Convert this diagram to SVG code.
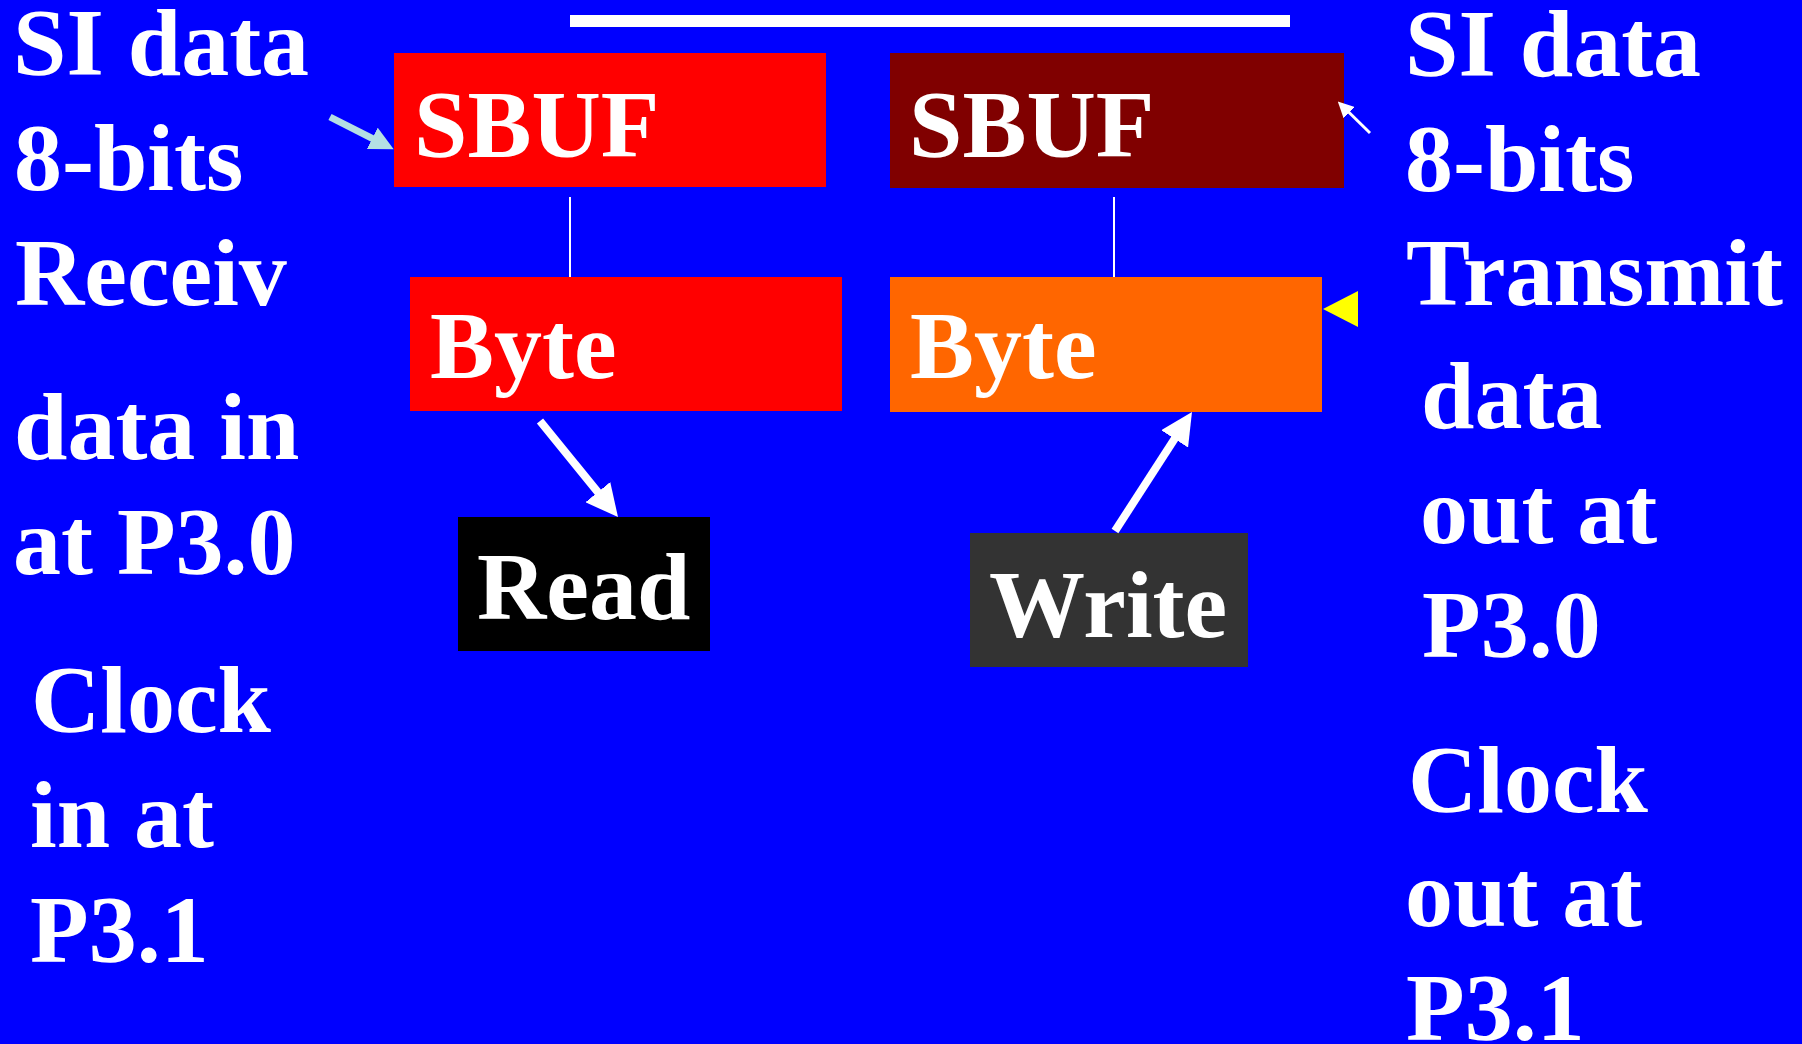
<svg xmlns="http://www.w3.org/2000/svg" width="1802" height="1044" viewBox="0 0 1802 1044">
  <style>
    .t { font-family: "Liberation Serif", "Times New Roman", serif; font-weight: bold; font-size: 96px; fill: #ffffff; }
    .link { stroke: #ffffff; stroke-width: 2; }
    .arrow { stroke: #ffffff; stroke-width: 8; fill: none; }
  </style>
  <defs>
    <marker id="head" viewBox="0 0 10 10" refX="5" refY="5" markerUnits="userSpaceOnUse" markerWidth="32" markerHeight="32" orient="auto">
      <path d="M0,0 L10,5 L0,10 Z" fill="#ffffff"/>
    </marker>
    <marker id="head-blue" viewBox="0 0 10 10" refX="5" refY="5" markerUnits="userSpaceOnUse" markerWidth="24" markerHeight="24" orient="auto">
      <path d="M0,0 L10,5 L0,10 Z" fill="#b4dfe4"/>
    </marker>
    <marker id="head-sm" viewBox="0 0 10 10" refX="5" refY="5" markerUnits="userSpaceOnUse" markerWidth="16" markerHeight="16" orient="auto">
      <path d="M0,0 L10,5 L0,10 Z" fill="#ffffff"/>
    </marker>
  </defs>

  <!-- background -->
  <rect x="0" y="0" width="1802" height="1044" fill="#0000ff"/>

  <!-- top bar -->
  <rect x="570" y="15" width="720" height="12" fill="#ffffff"/>

  <!-- receive side -->
  <g id="sbuf-rx">
    <rect x="394" y="53" width="432" height="134" fill="#ff0000"/>
    <text class="t" x="414" y="157">SBUF</text>
  </g>
  <g id="byte-rx">
    <rect x="410" y="277" width="432" height="134" fill="#ff0000"/>
    <text class="t" x="430" y="378">Byte</text>
  </g>
  <g id="read">
    <rect x="458" y="517" width="252" height="134" fill="#000000"/>
    <text class="t" x="477" y="619">Read</text>
  </g>

  <!-- transmit side -->
  <g id="sbuf-tx">
    <rect x="890" y="53" width="454" height="135" fill="#800000"/>
    <text class="t" x="909" y="157">SBUF</text>
  </g>
  <g id="byte-tx">
    <rect x="890" y="277" width="432" height="135" fill="#ff6600"/>
    <text class="t" x="910" y="378">Byte</text>
  </g>
  <g id="write">
    <rect x="970" y="533" width="278" height="134" fill="#333333"/>
    <text class="t" x="989" y="637">Write</text>
  </g>

  <!-- connectors -->
  <g id="connectors">
    <line class="link" x1="570" y1="197" x2="570" y2="277"/>
    <line class="link" x1="1114" y1="197" x2="1114" y2="277"/>
    <line class="arrow" x1="540" y1="421" x2="607.9" y2="504.6" marker-end="url(#head)"/>
    <line class="arrow" x1="1115" y1="531" x2="1183.3" y2="425.4" marker-end="url(#head)"/>
    <line x1="330" y1="117" x2="383" y2="143.8" stroke="#b4dfe4" stroke-width="7" marker-end="url(#head-blue)"/>
    <line x1="1370" y1="133" x2="1343.5" y2="107" stroke="#ffffff" stroke-width="3" marker-end="url(#head-sm)"/>
    <polygon points="1323,309 1358,291 1358,327" fill="#ffff00"/>
  </g>

  <!-- left notes -->
  <g id="notes-rx">
    <text class="t" x="13" y="75">SI data</text>
    <text class="t" x="14" y="190">8-bits</text>
    <text class="t" x="15" y="305">Receiv</text>
    <text class="t" x="14" y="459">data in</text>
    <text class="t" x="13" y="574">at P3.0</text>
    <text class="t" x="31" y="732">Clock</text>
    <text class="t" x="30" y="847">in at</text>
    <text class="t" x="30" y="962">P3.1</text>
  </g>

  <!-- right notes -->
  <g id="notes-tx">
    <text class="t" x="1405" y="76">SI data</text>
    <text class="t" x="1405" y="191">8-bits</text>
    <text class="t" x="1406" y="305">Transmit</text>
    <text class="t" x="1421" y="428">data</text>
    <text class="t" x="1420" y="543">out at</text>
    <text class="t" x="1422" y="657">P3.0</text>
    <text class="t" x="1408" y="812">Clock</text>
    <text class="t" x="1405" y="926">out at</text>
    <text class="t" x="1406" y="1040">P3.1</text>
  </g>
</svg>
